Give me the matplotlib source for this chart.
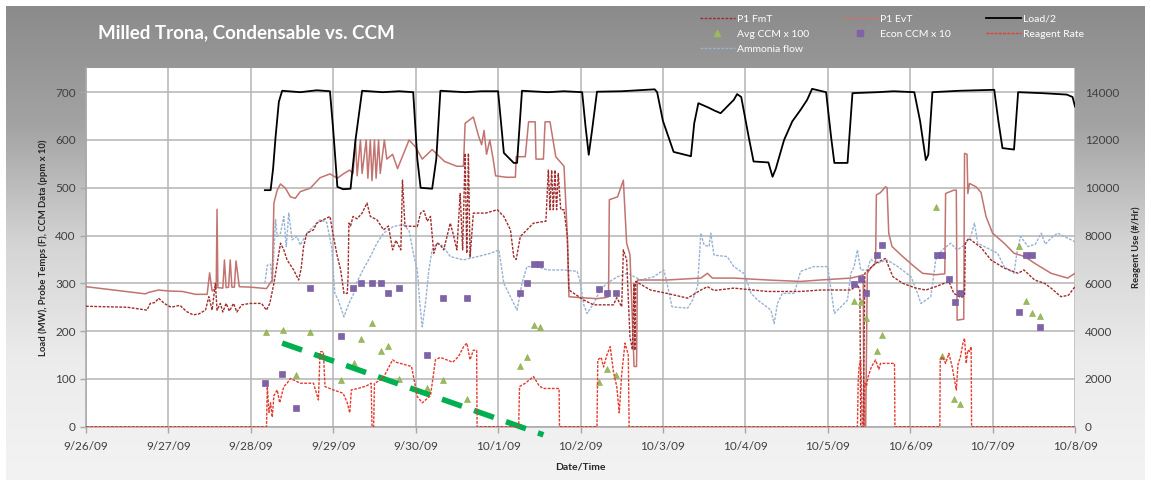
import numpy as np
import matplotlib
matplotlib.use("Agg")
import matplotlib.pyplot as plt
import matplotlib.dates as mdates
from matplotlib.colors import LinearSegmentedColormap
from matplotlib.lines import Line2D

# all times are days after 9/26/09 00:00
load_pts = [(2.17, 495), (2.24, 495), (2.27, 540), (2.30, 606), (2.34, 680), (2.38, 703), (2.6, 700), (2.8, 704),
            (2.96, 702), (3.0, 620), (3.05, 502), (3.12, 497), (3.21, 498), (3.27, 600), (3.35, 703), (3.6, 700),
            (3.8, 702), (3.97, 700), (4.02, 560), (4.06, 500), (4.2, 498), (4.25, 560), (4.3, 703), (4.6, 700),
            (4.8, 702), (5.0, 702), (5.07, 573), (5.19, 552), (5.23, 552), (5.29, 703), (5.6, 700), (5.8, 702),
            (6.02, 700), (6.06, 630), (6.10, 569), (6.14, 620), (6.2, 701), (6.5, 702), (6.7, 704), (6.9, 706),
            (6.93, 700), (7.0, 640), (7.05, 615), (7.13, 575), (7.34, 566), (7.38, 635), (7.43, 677), (7.55, 668),
            (7.62, 662), (7.7, 656), (7.86, 684), (7.9, 696), (7.95, 690), (8.04, 607), (8.1, 555), (8.28, 553),
            (8.33, 523), (8.37, 540), (8.47, 600), (8.57, 639), (8.67, 663), (8.75, 684), (8.81, 707), (8.98, 700),
            (9.04, 607), (9.08, 552), (9.24, 552), (9.30, 698), (9.6, 700), (9.8, 702), (10.05, 700), (10.12, 640),
            (10.19, 558), (10.22, 569), (10.27, 700), (10.6, 703), (11.02, 705), (11.07, 640), (11.12, 583),
            (11.26, 580), (11.31, 700), (11.6, 698), (11.9, 695), (11.97, 690), (12.0, 670)]

evt_pts = [(0.0, 293), (0.72, 278), (0.76, 281), (0.88, 286), (1.0, 284), (1.17, 283), (1.33, 277), (1.47, 277),
           (1.50, 322), (1.53, 284), (1.58, 290), (1.59, 455), (1.60, 291), (1.66, 290), (1.68, 349), (1.70, 291),
           (1.73, 292), (1.75, 349), (1.77, 292), (1.80, 292), (1.82, 347), (1.86, 293), (2.0, 292), (2.19, 289),
           (2.26, 307), (2.28, 468), (2.32, 495), (2.36, 508), (2.42, 499), (2.48, 481), (2.54, 478), (2.60, 492),
           (2.72, 499), (2.84, 521), (2.96, 529), (3.05, 520), (3.13, 530), (3.20, 537), (3.24, 530), (3.27, 600),
           (3.29, 525), (3.33, 600), (3.35, 530), (3.40, 600), (3.42, 520), (3.45, 600), (3.47, 515), (3.50, 600),
           (3.52, 520), (3.55, 600), (3.57, 530), (3.62, 600), (3.65, 560), (3.72, 570), (3.78, 540), (3.85, 570),
           (3.92, 600), (4.0, 585), (4.08, 560), (4.2, 580), (4.35, 555), (4.5, 545), (4.58, 545), (4.60, 635),
           (4.70, 648), (4.76, 610), (4.80, 590), (4.83, 620), (4.86, 570), (4.90, 600), (4.94, 560), (4.97, 525),
           (5.1, 522), (5.21, 522), (5.22, 565), (5.33, 565), (5.37, 638), (5.45, 638), (5.46, 560), (5.55, 560),
           (5.57, 638), (5.63, 638), (5.70, 565), (5.80, 545), (5.84, 400), (5.86, 272), (6.0, 270), (6.2, 268),
           (6.3, 270), (6.34, 272), (6.35, 475), (6.45, 481), (6.52, 516), (6.56, 384), (6.60, 360), (6.65, 126),
           (6.68, 126), (6.69, 307), (7.05, 307), (7.46, 311), (7.54, 321), (7.6, 311), (7.86, 311), (8.27, 307),
           (8.67, 304), (8.91, 307), (9.28, 311), (9.38, 315), (9.43, 318), (9.44, 0), (9.46, 0), (9.48, 321),
           (9.52, 332), (9.58, 342), (9.59, 485), (9.64, 490), (9.70, 502), (9.72, 500), (9.74, 405), (9.78, 377),
           (9.91, 356), (10.03, 338), (10.15, 321), (10.31, 318), (10.42, 320), (10.43, 488), (10.53, 495),
           (10.56, 495), (10.57, 223), (10.65, 225), (10.66, 572), (10.69, 570), (10.70, 488), (10.72, 509),
           (10.80, 502), (10.86, 490), (10.92, 440), (11.0, 405), (11.14, 384), (11.26, 363), (11.39, 356),
           (11.51, 342), (11.71, 321), (11.91, 311), (12.0, 321)]

fmt_pts = [(0.0, 252), (0.5, 250), (0.74, 244), (0.78, 258), (0.84, 260), (0.88, 269), (0.95, 258), (1.02, 251),
           (1.06, 251), (1.14, 254), (1.22, 241), (1.30, 234), (1.37, 236), (1.45, 244), (1.49, 272), (1.53, 244),
           (1.57, 300), (1.59, 244), (1.63, 258), (1.66, 240), (1.70, 258), (1.74, 242), (1.79, 258), (1.83, 240),
           (1.89, 255), (1.99, 258), (2.13, 258), (2.19, 244), (2.23, 258), (2.28, 300), (2.32, 342), (2.36, 384),
           (2.40, 370), (2.44, 349), (2.52, 328), (2.58, 307), (2.61, 330), (2.64, 377), (2.68, 405), (2.76, 412),
           (2.80, 426), (2.88, 433), (2.96, 440), (3.0, 400), (3.05, 356), (3.09, 328), (3.13, 279), (3.17, 279),
           (3.18, 314), (3.19, 426), (3.21, 420), (3.24, 440), (3.29, 435), (3.35, 447), (3.41, 468), (3.45, 440),
           (3.53, 433), (3.61, 412), (3.67, 420), (3.72, 370), (3.76, 390), (3.82, 370), (3.84, 516), (3.87, 420),
           (4.02, 419), (4.06, 447), (4.10, 452), (4.14, 430), (4.18, 440), (4.22, 363), (4.26, 385), (4.30, 380),
           (4.34, 370), (4.42, 426), (4.46, 400), (4.50, 370), (4.54, 488), (4.57, 370), (4.60, 572), (4.62, 363),
           (4.64, 572), (4.66, 355), (4.70, 447), (4.85, 447), (4.99, 454), (5.07, 440), (5.15, 412), (5.19, 356),
           (5.22, 350), (5.27, 398), (5.35, 412), (5.43, 426), (5.58, 430), (5.61, 537), (5.63, 454), (5.65, 537),
           (5.67, 454), (5.69, 537), (5.71, 454), (5.73, 530), (5.76, 454), (5.80, 454), (5.84, 398), (5.86, 286),
           (6.04, 265), (6.16, 255), (6.40, 255), (6.44, 270), (6.50, 251), (6.52, 370), (6.56, 349), (6.60, 188),
           (6.63, 161), (6.65, 300), (6.66, 160), (6.67, 304), (6.85, 286), (7.05, 279), (7.30, 269), (7.46, 286),
           (7.54, 293), (7.62, 285), (7.86, 290), (8.27, 283), (8.67, 283), (8.91, 286), (9.28, 286), (9.36, 297),
           (9.39, 286), (9.40, 0), (9.43, 0), (9.45, 321), (9.58, 342), (9.70, 352), (9.79, 314), (9.91, 300),
           (10.07, 290), (10.19, 286), (10.31, 293), (10.47, 304), (10.53, 279), (10.62, 270), (10.66, 275),
           (10.67, 384), (10.71, 394), (10.79, 384), (10.86, 375), (10.98, 349), (11.14, 332), (11.31, 321),
           (11.38, 328), (11.51, 307), (11.63, 300), (11.71, 290), (11.83, 272), (11.92, 275), (12.0, 293)]

ammonia_pts = [(2.17, 300), (2.20, 338), (2.24, 340), (2.26, 300), (2.30, 433), (2.32, 398), (2.36, 405), (2.40, 440),
               (2.43, 377), (2.46, 447), (2.50, 391), (2.56, 398), (2.60, 380), (2.68, 405), (2.76, 419), (2.84, 433),
               (2.92, 428), (2.98, 377), (3.02, 279), (3.06, 265), (3.13, 230), (3.19, 258), (3.25, 279), (3.28, 300),
               (3.36, 328), (3.45, 356), (3.53, 384), (3.61, 405), (3.73, 419), (3.85, 423), (3.92, 410), (3.98, 356),
               (4.02, 328), (4.05, 258), (4.08, 209), (4.12, 260), (4.16, 328), (4.2, 370), (4.26, 384), (4.33, 378),
               (4.42, 356), (4.58, 349), (4.75, 356), (4.91, 363), (5.01, 370), (5.07, 300), (5.19, 258), (5.23, 244),
               (5.29, 300), (5.35, 335), (5.47, 335), (5.6, 328), (5.8, 328), (5.96, 325), (6.0, 300), (6.04, 255),
               (6.08, 237), (6.16, 258), (6.24, 286), (6.32, 300), (6.45, 314), (6.57, 321), (6.73, 307), (6.89, 314),
               (7.01, 328), (7.05, 300), (7.11, 251), (7.30, 248), (7.36, 265), (7.42, 293), (7.46, 405), (7.50, 380),
               (7.56, 377), (7.58, 405), (7.62, 359), (7.78, 356), (7.86, 335), (7.98, 321), (8.03, 300), (8.07, 279),
               (8.15, 265), (8.31, 244), (8.35, 216), (8.39, 258), (8.45, 279), (8.59, 279), (8.63, 300), (8.67, 325),
               (8.83, 335), (9.0, 335), (9.04, 286), (9.08, 237), (9.16, 251), (9.24, 265), (9.28, 321), (9.32, 335),
               (9.36, 370), (9.40, 328), (9.48, 328), (9.52, 350), (9.60, 342), (9.72, 349), (9.85, 335), (10.01, 314),
               (10.09, 279), (10.13, 258), (10.25, 272), (10.31, 349), (10.39, 370), (10.49, 384), (10.57, 370),
               (10.66, 380), (10.74, 401), (10.78, 426), (10.82, 384), (10.90, 377), (11.06, 363), (11.14, 335),
               (11.26, 321), (11.30, 370), (11.34, 398), (11.43, 377), (11.52, 382), (11.59, 405), (11.64, 382),
               (11.71, 395), (11.79, 405), (11.87, 398), (12.0, 387)]

# reagent rate in #/Hr (right axis)
reagent_pts = [(0.0, 0), (2.19, 0), (2.20, 1680), (2.22, 600), (2.24, 1000), (2.26, 400), (2.28, 1300), (2.32, 1540),
               (2.35, 1000), (2.40, 1680), (2.44, 1820), (2.48, 2020), (2.60, 1820), (2.76, 1820), (2.82, 1120),
               (2.84, 3140), (2.88, 3140), (2.90, 1680), (3.0, 1540), (3.12, 1400), (3.17, 1000), (3.20, 580),
               (3.22, 1540), (3.30, 1600), (3.40, 1700), (3.46, 1820), (3.47, 0), (3.49, 0), (3.50, 1820),
               (3.60, 2000), (3.72, 2800), (3.76, 2700), (3.95, 2520), (4.02, 1260), (4.08, 1000), (4.18, 1300),
               (4.24, 2800), (4.30, 2900), (4.45, 2700), (4.52, 2940), (4.58, 3340), (4.62, 3500), (4.66, 2800),
               (4.70, 3200), (4.74, 3200), (4.745, 0), (5.25, 0), (5.26, 1680), (5.33, 1820), (5.43, 2100),
               (5.50, 1700), (5.55, 1600), (5.74, 1600), (5.745, 0), (6.2, 0), (6.21, 2800), (6.25, 2900),
               (6.28, 2500), (6.32, 3000), (6.36, 3350), (6.40, 2300), (6.44, 1680), (6.47, 580), (6.50, 2200),
               (6.54, 3500), (6.58, 3000), (6.59, 0), (9.36, 0), (9.37, 1960), (9.38, 2510), (9.40, 2790), (9.42, 0),
               (9.44, 0), (9.45, 1820), (9.47, 1700), (9.49, 2090), (9.53, 2510), (9.58, 2790), (9.62, 2400),
               (9.64, 2650), (9.81, 2650), (9.815, 0), (10.36, 0), (10.365, 2790), (10.39, 2930), (10.43, 2650),
               (10.47, 3070), (10.51, 2500), (10.56, 1535), (10.58, 2600), (10.61, 2930), (10.64, 3490), (10.66, 3700),
               (10.68, 2650), (10.70, 3210), (10.72, 3150), (10.74, 3350), (10.745, 0), (12.0, 0)]

avg_ccm_pts = [(2.18, 198), (2.39, 202), (2.55, 108), (2.72, 198), (3.09, 98), (3.25, 133), (3.34, 183), (3.47, 218),
               (3.58, 158), (3.67, 169), (3.80, 99), (4.14, 80), (4.33, 98), (4.62, 59), (5.26, 128), (5.35, 145),
               (5.44, 213), (5.51, 208), (6.23, 93), (6.32, 120), (6.43, 108), (9.32, 264), (9.40, 260), (9.47, 227),
               (9.60, 158), (9.66, 192), (10.31, 459), (10.39, 148), (10.53, 58), (10.60, 48), (11.32, 379),
               (11.41, 263), (11.48, 237), (11.57, 232)]

econ_ccm_pts = [(2.17, 91), (2.38, 110), (2.55, 40), (2.72, 290), (3.09, 190), (3.24, 290), (3.34, 300), (3.47, 300),
                (3.58, 300), (3.67, 279), (3.80, 290), (4.14, 150), (4.33, 269), (4.62, 269), (5.26, 280), (5.35, 300),
                (5.44, 340), (5.51, 340), (6.23, 289), (6.32, 279), (6.43, 279), (9.32, 299), (9.40, 309),
                (9.47, 279), (9.60, 359), (9.66, 380), (10.32, 359), (10.39, 359), (10.47, 309), (10.54, 260),
                (10.61, 279), (11.32, 239), (11.41, 359), (11.48, 359), (11.57, 209)]

# hand-drawn green dashed trend line (start, end)
trend_pts = [(2.38, 175), (5.55, -17)]

start_day = np.datetime64("2009-09-26T00:00")


def to_dates(pts):
    d = np.array([p[0] for p in pts])
    v = np.array([p[1] for p in pts], dtype=float)
    t = start_day + (d * 86400).round().astype("timedelta64[s]")
    return t, v


plt.rcParams["font.family"] = ["Lato", "DejaVu Sans"]

fig = plt.figure(figsize=(11.51, 4.82), dpi=100)
fig.patch.set_facecolor("white")

# grey gradient panel behind everything
bg = fig.add_axes([6 / 1151, 2 / 482, 1139 / 1151, 474 / 482], zorder=-10)
cmap = LinearSegmentedColormap.from_list("bg", ["#8b8b8b", "#a3a3a3", "#d4d4d4", "#ececec", "#f3f3f3"])
grad = np.linspace(0, 1, 256).reshape(-1, 1)
bg.imshow(grad, aspect="auto", cmap=cmap, extent=[0, 1, 0, 1])
bg.axis("off")

ax = fig.add_axes([86 / 1151, 1 - 426.7 / 482, 989 / 1151, (426.7 - 68.3) / 482])
ax.set_facecolor("white")

t, v = to_dates(load_pts)
ax.plot(t, v, color="black", lw=1.3, zorder=5)
t, v = to_dates(evt_pts)
ax.plot(t, v, color="#c27470", lw=1.1, zorder=3)
t, v = to_dates(fmt_pts)
ax.plot(t, v, color="#a12c2c", lw=1.0, ls=(0, (2, 1)), zorder=4)
t, v = to_dates(ammonia_pts)
ax.plot(t, v, color="#98b2d4", lw=1.0, ls=(0, (2, 1)), zorder=2)
t, v = to_dates(avg_ccm_pts)
ax.plot(t, v, ls="none", marker="^", ms=4.5, color="#9bbb59", mec="#8aa84c", mew=0.4, zorder=6)
t, v = to_dates(econ_ccm_pts)
ax.plot(t, v, ls="none", marker="s", ms=4.2, color="#7f62a8", mec="#6c5094", mew=0.4, zorder=6)
t, v = to_dates(trend_pts)
ax.plot(t, v, color="#00b050", lw=4, ls=(0, (3.8, 2.3)), solid_capstyle="butt", clip_on=False, zorder=8)

ax.set_xlim(start_day, start_day + np.timedelta64(12, "D"))
ax.set_ylim(0, 750)
ax.set_yticks(range(0, 701, 100))
ax.xaxis.set_major_locator(mdates.DayLocator())
ax.xaxis.set_major_formatter(mdates.DateFormatter("%-m/%-d/%y"))
ax.grid(True, color="#b4b4b4", lw=1.1)
ax.set_axisbelow(True)
for s in ["top", "right"]:
    ax.spines[s].set_visible(False)
for s in ["left", "bottom"]:
    ax.spines[s].set_color("#a8a8a8")
    ax.spines[s].set_linewidth(1.1)
ax.tick_params(colors="#a8a8a8", labelcolor="#404040", labelsize=8.5, length=4, width=1)
ax.tick_params(axis="x", pad=6)

ax2 = ax.twinx()
t, v = to_dates(reagent_pts)
ax2.plot(t, v, color="#e53a2e", lw=1.0, ls=(0, (2, 1)), zorder=4)
ax2.set_ylim(0, 15000)
ax2.set_yticks(range(0, 14001, 2000))
for s in ax2.spines.values():
    s.set_visible(False)
ax2.tick_params(colors="#a8a8a8", labelcolor="#404040", labelsize=8.5, length=0, pad=7)

ax.set_ylabel("Load (MW), Probe Temps (F), CCM Data (ppm x 10)", fontsize=6.8, fontweight="bold",
              color="#262626", labelpad=5)
ax2.set_ylabel("Reagent Use (#/Hr)", fontsize=6.8, fontweight="bold", color="#262626", labelpad=9)
ax.set_xlabel("Date/Time", fontsize=7.5, fontweight="bold", color="#262626", labelpad=8)

fig.text(98 / 1151, 1 - 33 / 482, "Milled Trona, Condensable vs. CCM", color="white", fontsize=13.5,
         fontweight="bold", va="center", ha="left")

# legend, three columns placed by hand
def leg_handle(color, ls="-", marker=None, lw=1.0):
    if marker:
        return Line2D([], [], ls="none", marker=marker, ms=4, color=color)
    return Line2D([], [], color=color, ls=ls, lw=lw)


cols = [
    (693, [leg_handle("#a12c2c", (0, (2, 1))), leg_handle("#9bbb59", marker="^"),
           leg_handle("#98b2d4", (0, (2, 1)))], ["P1 FmT", "Avg CCM x 100", "Ammonia flow"]),
    (836, [leg_handle("#c27470"), leg_handle("#7f62a8", marker="s")], ["P1 EvT", "Econ CCM x 10"]),
    (979, [leg_handle("black", lw=1.3), leg_handle("#e53a2e", (0, (2, 1)))], ["Load/2", "Reagent Rate"]),
]
for x0, hs, labs in cols:
    lg = fig.legend(hs, labs, loc="upper left", bbox_to_anchor=(x0 / 1151, 1 - 7 / 482), frameon=False,
                    fontsize=7.5, labelcolor="white", handlelength=3.3, handletextpad=0.2, labelspacing=0.55,
                    borderpad=0.2)

fig.savefig("out.png", dpi=100, facecolor=fig.get_facecolor())
